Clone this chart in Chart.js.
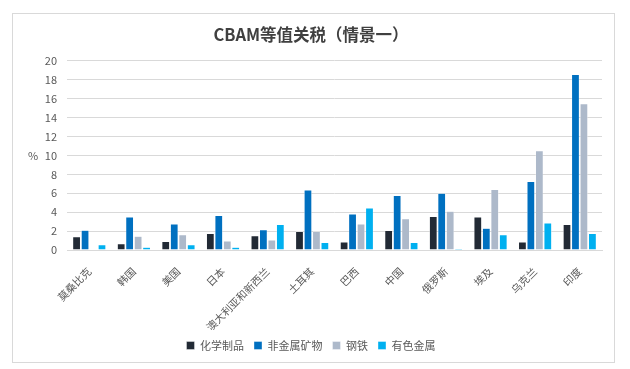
<!DOCTYPE html>
<html>
<head>
<meta charset="utf-8">
<script src="https://cdn.jsdelivr.net/npm/chart.js@4.4.0/dist/chart.umd.min.js"></script>
<style>
  body { margin: 0; background: #fff; }
  .wrap { position: relative; width: 630px; height: 369px; }
  .frame { position: absolute; left: 12px; top: 13px; width: 601px; height: 348px; border: 1px solid #d9d9d9; pointer-events: none; }
</style>
</head>
<body>
<div class="wrap">
  <canvas id="cbamChart" width="630" height="369"></canvas>
  <div class="frame"></div>
</div>
<script>
const countries = ["莫桑比克", "韩国", "美国", "日本", "澳大利亚和新西兰", "土耳其", "巴西", "中国", "俄罗斯", "埃及", "乌克兰", "印度"];

const chemicals = [1.4, 0.65, 0.9, 1.75, 1.5, 1.95, 0.85, 2.05, 3.55, 3.5, 0.85, 2.7];
const nonMetallic = [2.1, 3.5, 2.75, 3.65, 2.15, 6.35, 3.8, 5.75, 6.0, 2.3, 7.25, 18.55];
const steel = [0, 1.45, 1.6, 0.95, 1.05, 1.95, 2.75, 3.3, 4.1, 6.4, 10.5, 15.45];
const nonFerrous = [0.55, 0.3, 0.55, 0.3, 2.7, 0.8, 4.45, 0.8, 0.15, 1.6, 2.85, 1.75];

const seriesNames = ["化学制品", "非金属矿物", "钢铁", "有色金属"];
const seriesColors = ["#222a35", "#0070c0", "#adb9ca", "#00b0f0"];

const font = "'Noto Sans CJK SC', 'Liberation Sans', sans-serif";
const textColor = "#595959";

// "%" unit written level with the 10 tick
const unitLabel = {
  id: "unitLabel",
  afterDraw(chart) {
    const c = chart.ctx;
    const y = chart.scales.y.getPixelForValue(10);
    c.save();
    c.font = "11px " + font;
    c.fillStyle = textColor;
    c.textAlign = "center";
    c.textBaseline = "middle";
    c.fillText("%", 33, y);
    c.restore();
  }
};

new Chart(document.getElementById("cbamChart"), {
  type: "bar",
  data: {
    labels: countries,
    datasets: [chemicals, nonMetallic, steel, nonFerrous].map((d, i) => ({
      label: seriesNames[i],
      data: d,
      backgroundColor: seriesColors[i],
      borderColor: "#ffffff",
      borderWidth: { left: 0.5, right: 0.5, top: 0.5, bottom: 0 },
      barPercentage: 0.92,
      categoryPercentage: 0.76,
    }))
  },
  options: {
    responsive: false,
    animation: false,
    layout: { padding: { left: 20, right: 28, top: 0, bottom: 8 } },
    scales: {
      x: {
        afterFit: (s) => { s.height = 80; },
        grid: { display: false },
        border: { color: "#d9d9d9" },
        ticks: {
          color: textColor,
          font: { family: font, size: 10.5 },
          maxRotation: 45,
          minRotation: 45,
          padding: 7,
        }
      },
      y: {
        min: 0,
        max: 20,
        afterFit: (s) => { s.width = 47; },
        grid: { color: "#d9d9d9", drawTicks: false },
        border: { display: false },
        ticks: {
          stepSize: 2,
          padding: 10,
          color: textColor,
          font: { family: font, size: 11 },
        }
      }
    },
    plugins: {
      title: {
        display: true,
        text: "CBAM等值关税（情景一）",
        color: "#404040",
        font: { family: font, size: 16.5, weight: "bold" },
        padding: { top: 25, bottom: 16 }
      },
      legend: {
        position: "bottom",
        labels: {
          boxWidth: 8,
          boxHeight: 8,
          padding: 10,
          color: textColor,
          font: { family: font, size: 11 }
        }
      },
      tooltip: { enabled: false }
    }
  },
  plugins: [unitLabel]
});
</script>
</body>
</html>
